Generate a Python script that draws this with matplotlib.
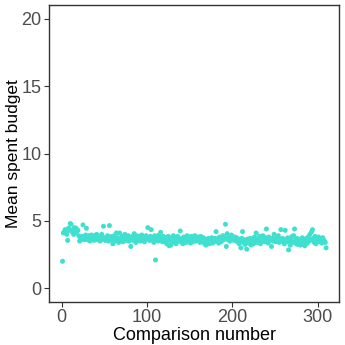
import matplotlib
matplotlib.use("Agg")
import matplotlib.pyplot as plt
import numpy as np

mean_budget = [
    2.0, 4.1, 4.2, 4.35, 4.1, 4.0, 3.55, 4.45, 4.3, 4.8,
    4.75, 4.2, 4.35, 4.0, 4.5, 4.1, 4.45, 4.25, 4.3, 3.9,
    3.5, 3.7, 3.6, 3.85, 4.7, 3.75, 3.6, 3.95, 4.45, 3.8,
    3.6, 3.9, 3.5, 3.7, 3.95, 3.65, 3.8, 3.55, 3.9, 3.75,
    4.0, 3.6, 3.7, 3.85, 3.5, 3.75, 4.0, 3.65, 4.6, 3.7,
    3.55, 3.8, 3.6, 3.9, 3.5, 4.65, 3.7, 3.6, 3.85, 3.3,
    3.65, 3.9, 3.5, 4.1, 3.6, 3.75, 3.4, 4.1, 3.55, 3.7,
    3.85, 3.45, 3.65, 4.0, 3.55, 3.8, 3.6, 3.9, 3.5, 3.75,
    3.1, 3.65, 3.85, 3.55, 4.05, 3.7, 3.4, 3.9, 3.6, 3.75,
    3.85, 3.5, 3.7, 3.95, 3.6, 3.8, 3.45, 3.75, 3.9, 3.65,
    4.5, 3.7, 3.55, 3.85, 4.35, 3.6, 3.75, 3.4, 3.9, 2.1,
    3.65, 3.8, 3.5, 3.95, 3.6, 4.15, 3.7, 3.45, 3.85, 3.6,
    3.5, 3.75, 3.3, 3.6, 3.85, 3.15, 3.55, 3.2, 3.7, 3.4,
    3.9, 3.55, 3.75, 3.3, 3.6, 3.85, 3.5, 3.7, 4.25, 3.45,
    3.65, 3.3, 3.8, 3.55, 3.7, 3.4, 3.9, 3.6, 3.5, 3.75,
    3.35, 3.85, 3.6, 3.45, 3.7, 3.9, 3.5, 3.65, 3.8, 3.55,
    3.7, 3.4, 3.85, 3.6, 3.5, 3.75, 3.35, 3.65, 3.2, 3.55,
    3.4, 3.7, 3.3, 3.6, 3.5, 3.75, 3.35, 3.55, 3.45, 3.7,
    4.2, 3.5, 3.65, 3.35, 3.8, 3.55, 3.45, 3.7, 3.9, 3.6,
    3.75, 4.75, 3.1, 4.05, 3.6, 3.85, 3.5, 3.7, 3.95, 3.65,
    3.7, 3.55, 3.8, 3.6, 3.75, 3.45, 3.65, 3.3, 3.55, 3.0,
    3.7, 4.2, 3.4, 3.6, 3.25, 3.5, 2.9, 3.65, 3.35, 3.55,
    3.7, 3.2, 3.45, 3.6, 3.3, 3.8, 3.5, 4.1, 3.4, 3.65,
    3.55, 3.85, 3.3, 3.7, 3.5, 3.9, 3.6, 3.45, 3.75, 4.4,
    3.6, 3.35, 3.8, 3.55, 3.65, 3.1, 3.7, 3.5, 4.0, 3.6,
    3.45, 3.75, 3.55, 3.9, 3.4, 3.65, 4.35, 3.5, 3.7, 3.55,
    3.3, 4.3, 3.6, 3.45, 3.75, 2.85, 3.5, 3.2, 3.65, 3.85,
    3.4, 3.9, 4.4, 3.55, 3.3, 3.7, 3.25, 3.6, 3.45, 3.2,
    3.5, 3.75, 3.3, 3.6, 3.15, 3.55, 3.7, 3.35, 3.8, 3.5,
    4.0, 3.6, 4.2, 4.35, 3.7, 3.4, 3.85, 3.3, 3.65, 3.5,
    3.8, 3.45, 3.7, 3.55, 3.35, 3.75, 3.6, 3.5, 3.4, 3.0,
]
comparison = list(range(1, len(mean_budget) + 1))
x_ticks = [0, 100, 200, 300]
y_ticks = [0, 5, 10, 15, 20]

plt.rcParams['font.family'] = ['Liberation Sans', 'DejaVu Sans']
fig = plt.figure(figsize=(3.45, 3.45), dpi=100)
ax = fig.add_axes([0.143, 0.1255, 0.8405, 0.859])
ax.scatter(comparison, mean_budget, s=13, color='#40E0D0', edgecolors='none')

xmin, xmax = min(comparison), max(comparison)
pad = (xmax - xmin) * 0.05
ax.set_xlim(xmin - pad, xmax + pad)
ax.set_ylim(-1, 21)
ax.set_xticks(x_ticks)
ax.set_yticks(y_ticks)
for s in ax.spines.values():
    s.set_color('#333333')
    s.set_linewidth(1.0)
ax.tick_params(axis='both', colors='#333333', length=3.5, width=0.8,
               labelsize=13, labelcolor='#4D4D4D', pad=2)
ax.set_xlabel('Comparison number', fontsize=13, color='black', va='center')
ax.set_ylabel('Mean spent budget', fontsize=12.5, color='black', va='center')
ax.xaxis.set_label_coords(0.5, -0.113)
ax.yaxis.set_label_coords(-0.125, 0.5)
fig.savefig('out.png', dpi=100)
